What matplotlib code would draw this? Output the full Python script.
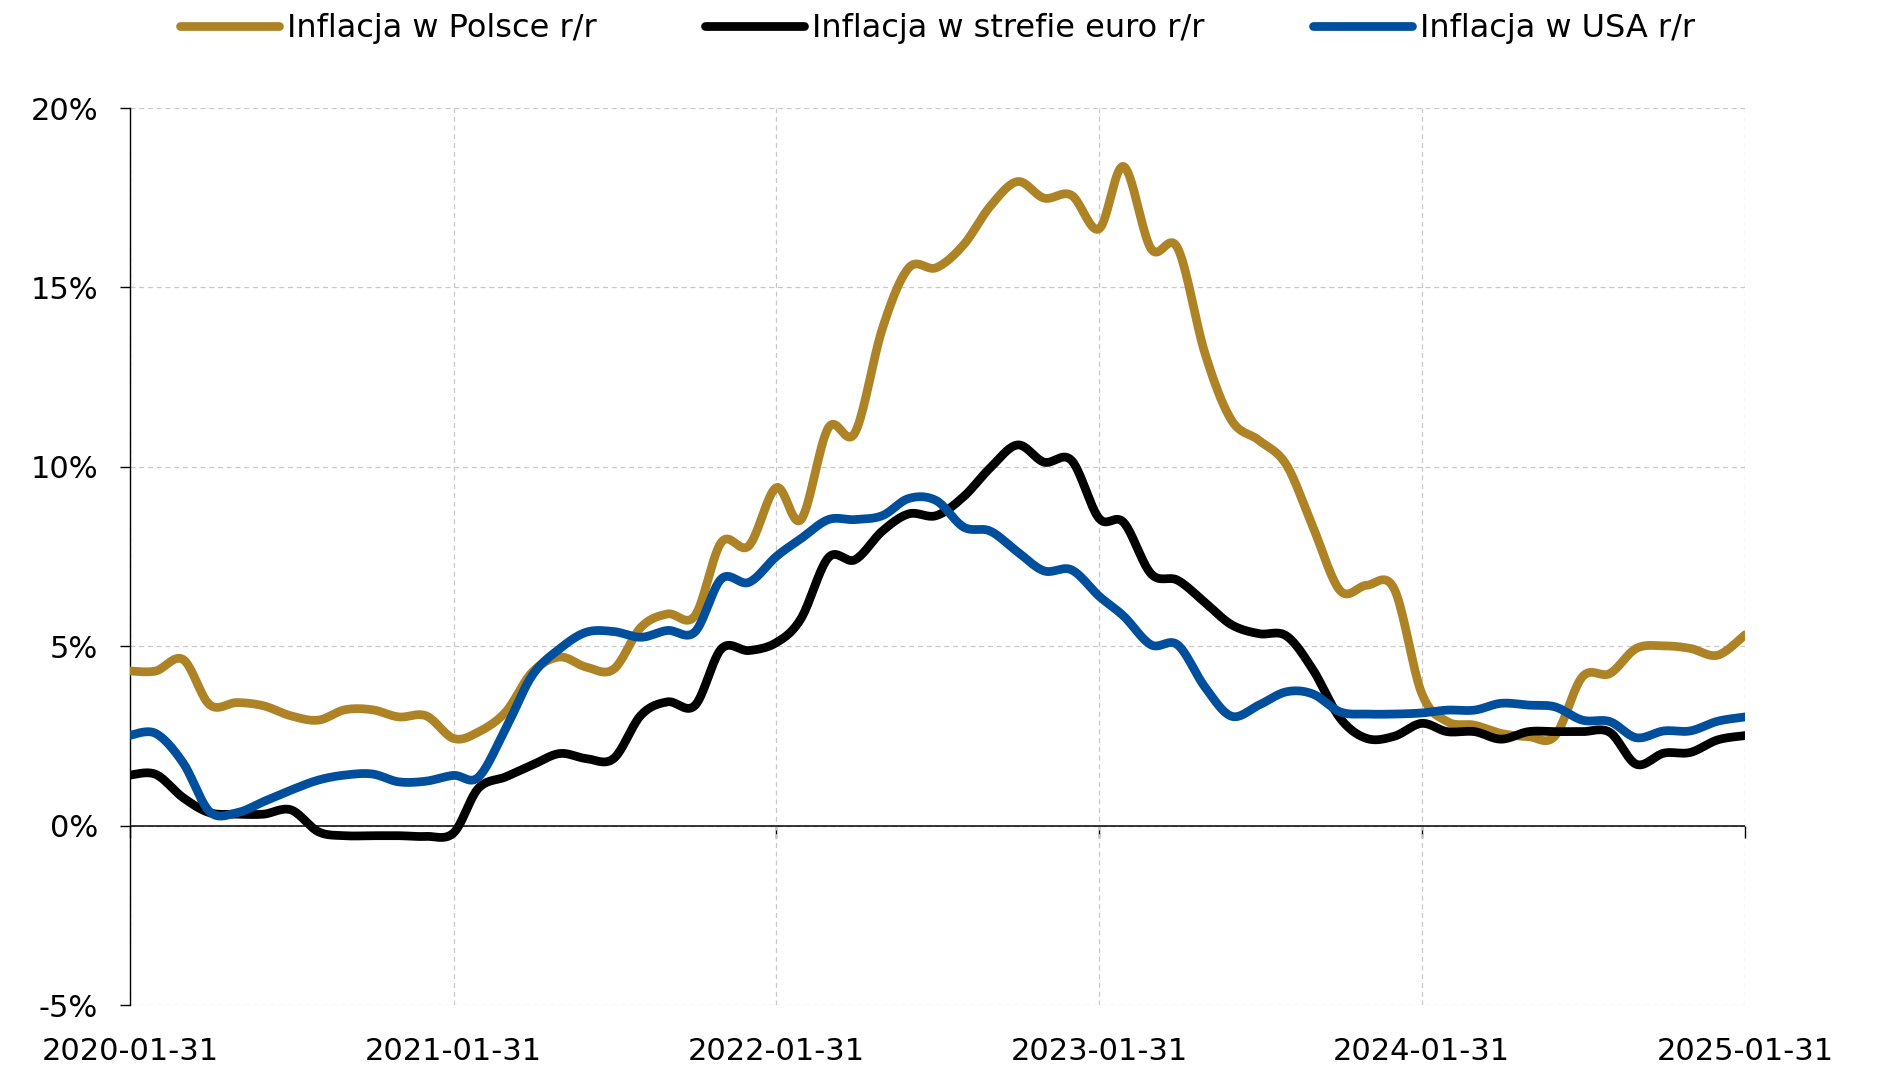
import numpy as np
import pandas as pd
import matplotlib
matplotlib.use('Agg')
import matplotlib.pyplot as plt
import matplotlib.dates as mdates
from matplotlib.ticker import FuncFormatter

# monthly y/y inflation, 2020-01 .. 2025-01 (61 months)
dates = pd.date_range('2020-01-31', '2025-01-31', freq='ME')

infl_pl = [4.31, 4.31, 4.63, 3.37, 3.43, 3.34, 3.06, 2.94, 3.23, 3.23, 3.03, 3.06,
           2.43, 2.61, 3.17, 4.28, 4.70, 4.42, 4.36, 5.53, 5.90, 5.85, 7.90, 7.80,
           9.42, 8.53, 11.09, 10.95, 13.85, 15.55, 15.55, 16.19, 17.26, 17.95, 17.49, 17.57,
           16.63, 18.37, 16.08, 16.10, 13.16, 11.30, 10.74, 10.06, 8.33, 6.55, 6.70, 6.60,
           3.70, 2.90, 2.80, 2.57, 2.48, 2.50, 4.15, 4.24, 4.94, 5.01, 4.94, 4.75,
           5.32]

infl_ez = [1.41, 1.43, 0.78, 0.36, 0.32, 0.32, 0.44, -0.17, -0.28, -0.28, -0.28, -0.30,
           -0.20, 1.04, 1.36, 1.69, 2.01, 1.87, 1.87, 3.08, 3.45, 3.35, 4.93, 4.88,
           5.10, 5.77, 7.47, 7.41, 8.21, 8.69, 8.64, 9.17, 9.97, 10.61, 10.13, 10.18,
           8.57, 8.45, 7.02, 6.84, 6.22, 5.60, 5.35, 5.29, 4.35, 2.99, 2.43, 2.49,
           2.85, 2.62, 2.62, 2.41, 2.62, 2.62, 2.62, 2.60, 1.71, 2.02, 2.04, 2.39,
           2.51]

infl_us = [2.52, 2.57, 1.75, 0.39, 0.36, 0.67, 0.99, 1.27, 1.41, 1.44, 1.22, 1.24,
           1.40, 1.35, 2.71, 4.19, 4.93, 5.39, 5.41, 5.25, 5.44, 5.40, 6.88, 6.78,
           7.50, 8.00, 8.53, 8.53, 8.64, 9.12, 9.06, 8.32, 8.21, 7.63, 7.10, 7.13,
           6.40, 5.84, 5.04, 5.04, 3.86, 3.05, 3.36, 3.73, 3.67, 3.17, 3.11, 3.11,
           3.14, 3.22, 3.22, 3.41, 3.36, 3.31, 2.94, 2.90, 2.45, 2.64, 2.64, 2.91,
           3.03]

labels = ['Inflacja w Polsce r/r', 'Inflacja w strefie euro r/r', 'Inflacja w USA r/r']
colors = ['#AD8326', '#000000', '#004F9C']
year_ticks = pd.to_datetime(['2020-01-31', '2021-01-31', '2022-01-31',
                             '2023-01-31', '2024-01-31', '2025-01-31'])


def smooth(x, y, n=20):
    # Bezier smoothing through every point (like a spreadsheet "smoothed line")
    x = np.asarray(x, float)
    y = np.asarray(y, float)
    px = np.concatenate([[x[0]], x, [x[-1]]])
    py = np.concatenate([[y[0]], y, [y[-1]]])
    t = np.linspace(0, 1, n, endpoint=False)[:, None]
    x0, x1, x2, x3 = px[:-3], px[1:-2], px[2:-1], px[3:]
    y0, y1, y2, y3 = py[:-3], py[1:-2], py[2:-1], py[3:]
    bx1, bx2 = x1 + (x2 - x0) / 6, x2 - (x3 - x1) / 6
    by1, by2 = y1 + (y2 - y0) / 6, y2 - (y3 - y1) / 6
    a, b, c, d = (1 - t) ** 3, 3 * (1 - t) ** 2 * t, 3 * (1 - t) * t ** 2, t ** 3
    sx = (a * x1 + b * bx1 + c * bx2 + d * x2).T.ravel()
    sy = (a * y1 + b * by1 + c * by2 + d * y2).T.ravel()
    return np.append(sx, x[-1]), np.append(sy, y[-1])


plt.rcParams['font.family'] = ['DejaVu Sans']

fig = plt.figure(figsize=(18.88, 10.87), dpi=100)
ax = fig.add_axes([0.0689, 0.0754, 0.8554, 0.8252])

ax.axhline(0, color='black', lw=1.1, zorder=2)

xnum = mdates.date2num(dates)
for vals, lab, col in zip([infl_pl, infl_ez, infl_us], labels, colors):
    sx, sy = smooth(xnum, vals)
    ax.plot(sx, sy, color=col, lw=6.3, label=lab, solid_capstyle='round',
            solid_joinstyle='round', zorder=3)

ax.set_xlim(mdates.date2num(year_ticks[0]), mdates.date2num(year_ticks[-1]))
ax.set_ylim(-5, 20)
ax.set_yticks([-5, 0, 5, 10, 15, 20])
ax.yaxis.set_major_formatter(FuncFormatter(lambda v, p: f'{v:.0f}%'))
ax.set_xticks(mdates.date2num(year_ticks))
ax.xaxis.set_major_formatter(mdates.DateFormatter('%Y-%m-%d'))

ax.grid(True, color='#c8c8c8', linestyle=(0, (4, 3)), lw=0.9)
ax.set_axisbelow(True)
for s in ['top', 'right', 'bottom']:
    ax.spines[s].set_visible(False)
ax.spines['left'].set_color('black')
ax.spines['left'].set_linewidth(1)

ax.tick_params(axis='y', length=7, width=1, pad=16, labelsize=22, colors='black')
ax.tick_params(axis='x', length=0, pad=23, labelsize=22)

# year ticks hanging under the zero line
zero = ax.secondary_xaxis(0.2)
zero.set_xticks(mdates.date2num(year_ticks))
zero.tick_params(axis='x', length=8.5, width=1, direction='out', labelbottom=False)
zero.spines['bottom'].set_visible(False)

ax.legend(loc='center', bbox_to_anchor=(0.4966, 0.974), bbox_transform=fig.transFigure,
          ncol=3, frameon=False, fontsize=23, handlelength=3.1, handletextpad=0.25,
          columnspacing=3.4)

fig.savefig('out.png', dpi=100)
